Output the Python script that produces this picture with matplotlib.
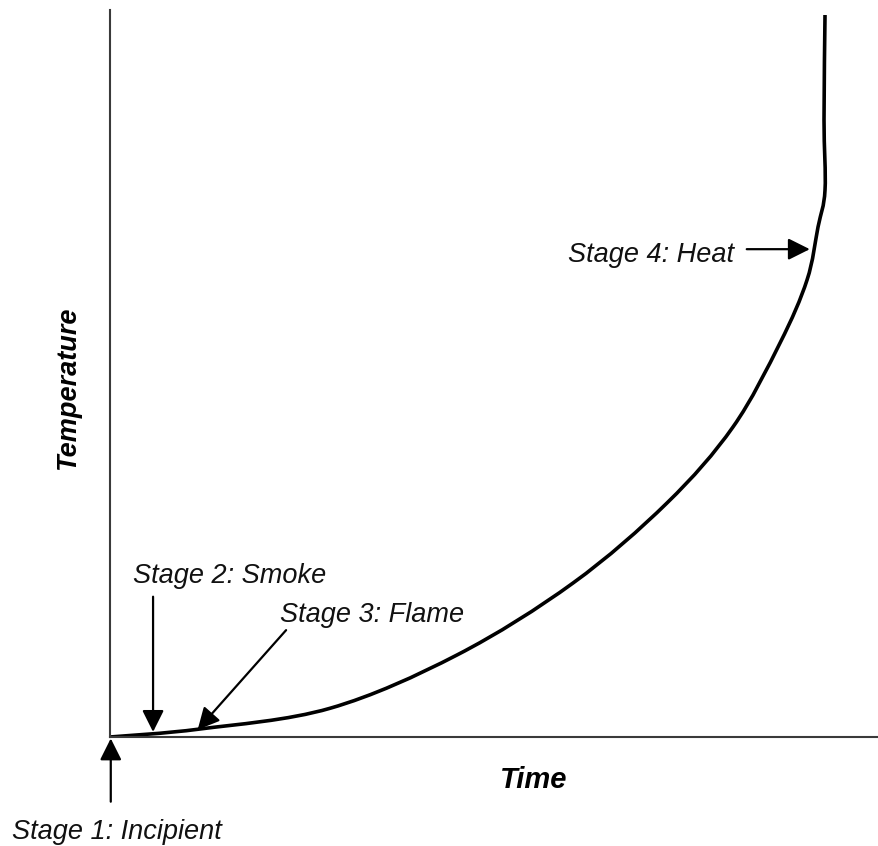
import matplotlib
matplotlib.use("Agg")
import matplotlib.pyplot as plt
from matplotlib.path import Path
from matplotlib.patches import PathPatch

# Curve (axes units 0-100)
time = [0, 11.70, 28.61, 45.12, 60.21, 72.43, 81.01, 87.13, 90.64, 92.07,
        92.98, 92.85, 92.98]
temperature = [0, 1.10, 3.95, 11.28, 21.18, 32.19, 42.64, 54.20, 62.86, 70.15,
               75.24, 84.87, 99.31]

# Stage labels: text anchor (left, baseline) and arrow start / tip
stage_labels = ["Stage 1: Incipient", "Stage 2: Smoke", "Stage 3: Flame", "Stage 4: Heat"]
label_xy = [(-12.7, -14.0), (3.0, 21.2), (22.1, 15.8), (59.6, 65.3)]
arrow_from = [(0.1, -8.9), (5.6, 19.3), (22.9, 14.7), (82.8, 67.1)]
arrow_to = [(0.1, -0.2), (5.6, 0.7), (11.4, 1.0), (91.0, 67.1)]

fonts = ['Liberation Sans', 'DejaVu Sans']


def smooth_path(xs, ys):
    # Catmull-Rom through the read points, handed to matplotlib as cubic Beziers
    pts = list(zip(xs, ys))
    pts = [pts[0]] + pts + [pts[-1]]
    verts = [pts[1]]
    codes = [Path.MOVETO]
    for i in range(1, len(pts) - 2):
        p0, p1, p2, p3 = pts[i - 1], pts[i], pts[i + 1], pts[i + 2]
        c1 = (p1[0] + (p2[0] - p0[0]) / 6, p1[1] + (p2[1] - p0[1]) / 6)
        c2 = (p2[0] - (p3[0] - p1[0]) / 6, p2[1] - (p3[1] - p1[1]) / 6)
        verts += [c1, c2, p2]
        codes += [Path.CURVE4] * 3
    return Path(verts, codes)


fig = plt.figure(figsize=(8.79, 8.46), dpi=100)
ax = fig.add_axes([110 / 879, 109 / 846, 769 / 879, 727 / 846])
ax.set_xlim(0, 100)
ax.set_ylim(0, 100)

ax.add_patch(PathPatch(smooth_path(time, temperature), facecolor='none',
                       edgecolor='black', lw=2.6, capstyle='butt'))

for lbl, xy, a0, a1 in zip(stage_labels, label_xy, arrow_from, arrow_to):
    ax.text(xy[0], xy[1], lbl, ha='left', va='baseline', fontsize=19.5,
            style='italic', family=fonts, color='#111111', clip_on=False)
    ax.annotate('', xy=a1, xytext=a0, annotation_clip=False,
                arrowprops=dict(arrowstyle='-|>,head_length=0.6,head_width=0.3',
                                color='black', lw=1.6, mutation_scale=22,
                                shrinkA=0, shrinkB=0))

ax.text(55.1, -5.9, 'Time', ha='center', va='center', fontsize=21,
        style='italic', weight='bold', family=fonts, clip_on=False)
ax.text(-5.5, 48.0, 'Temperature', ha='center', va='center', fontsize=19.5,
        style='italic', weight='bold', rotation=90, family=fonts, clip_on=False)

for s in ['top', 'right']:
    ax.spines[s].set_visible(False)
for s in ['left', 'bottom']:
    ax.spines[s].set_color('#3a3a3a')
    ax.spines[s].set_linewidth(1.5)
ax.set_xticks([])
ax.set_yticks([])

fig.savefig('out.png', dpi=100)
